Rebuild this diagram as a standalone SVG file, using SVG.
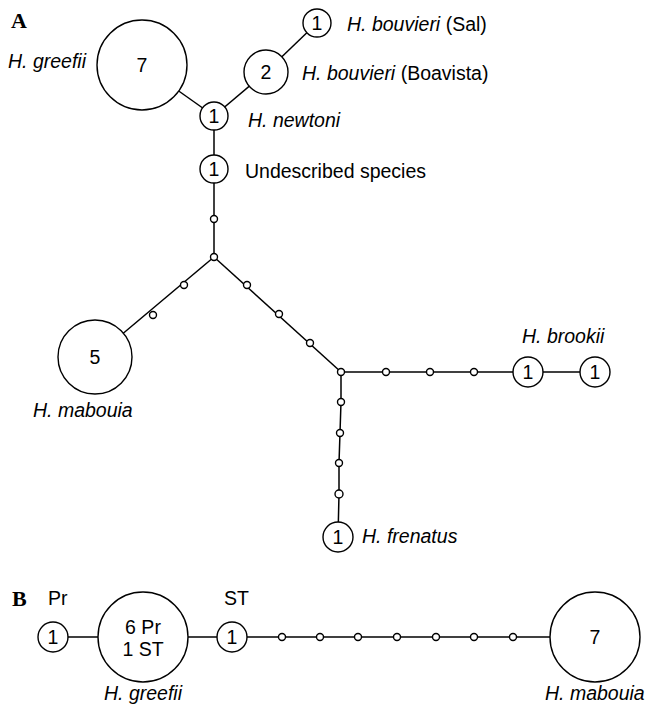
<svg xmlns="http://www.w3.org/2000/svg" width="648" height="710" viewBox="0 0 648 710">
<style>
.ln{stroke:#000;stroke-width:1.5;fill:none}
.nd{fill:#fff;stroke:#000;stroke-width:1.4}
.sm{fill:#fff;stroke:#000;stroke-width:1.4}
.t{font-family:"Liberation Sans",Arial,sans-serif;font-size:19.5px;fill:#000}
.i{font-style:italic}
.c{text-anchor:middle}
.p{font-family:"Liberation Serif","Times New Roman",serif;font-weight:bold;font-size:22px;fill:#000}
</style>
<rect width="648" height="710" fill="#fff"/>
<g id="connectors">
<line class="ln" x1="142" y1="65" x2="214" y2="116"/>
<line class="ln" x1="266" y1="72" x2="214" y2="116"/>
<line class="ln" x1="266" y1="72" x2="317" y2="23"/>
<line class="ln" x1="214" y1="116" x2="214" y2="257"/>
<line class="ln" x1="214" y1="257" x2="95" y2="357"/>
<line class="ln" x1="214" y1="257" x2="341" y2="372"/>
<line class="ln" x1="341" y1="372" x2="595" y2="372"/>
<polyline class="ln" points="341,372 341,402 340,433 339,463 339,494 338,537"/>
<line class="ln" x1="53" y1="637" x2="595" y2="637"/>
</g>
<text class="p" x="11" y="28">A</text>
<g id="n_greefii"><circle class="nd" cx="142" cy="65" r="45"/><text class="t c" x="142" y="72">7</text><text class="t i" x="8" y="68">H. greefii</text></g>
<g id="n_bouvieri_boa"><circle class="nd" cx="266" cy="72" r="22"/><text class="t c" x="266" y="79">2</text><text class="t" x="302" y="80"><tspan class="i">H. bouvieri</tspan> (Boavista)</text></g>
<g id="n_bouvieri_sal"><circle class="nd" cx="317" cy="23" r="14"/><text class="t c" x="317" y="30">1</text><text class="t" x="347" y="31"><tspan class="i">H. bouvieri</tspan> (Sal)</text></g>
<g id="n_newtoni"><circle class="nd" cx="214" cy="116" r="14"/><text class="t c" x="214" y="123">1</text><text class="t i" x="248" y="127">H. newtoni</text></g>
<g id="n_undescribed"><circle class="nd" cx="214" cy="169" r="14"/><text class="t c" x="214" y="176">1</text><text class="t" x="245" y="178">Undescribed species</text></g>
<g id="m_a">
<circle class="sm" cx="214" cy="219" r="3.5"/>
<circle class="sm" cx="214" cy="257" r="3.5"/>
<circle class="sm" cx="184" cy="285" r="3.5"/>
<circle class="sm" cx="153" cy="315" r="3.5"/>
<circle class="sm" cx="247" cy="285" r="3.5"/>
<circle class="sm" cx="279" cy="314" r="3.5"/>
<circle class="sm" cx="310" cy="343" r="3.5"/>
<circle class="sm" cx="341" cy="372" r="3.5"/>
<circle class="sm" cx="386" cy="372" r="3.5"/>
<circle class="sm" cx="430" cy="372" r="3.5"/>
<circle class="sm" cx="474" cy="372" r="3.5"/>
<circle class="sm" cx="341" cy="402" r="3.5"/>
<circle class="sm" cx="340" cy="433" r="3.5"/>
<circle class="sm" cx="339" cy="463" r="3.5"/>
<circle class="sm" cx="339" cy="494" r="4"/>
</g>
<g id="n_mabouia_a"><circle class="nd" cx="95" cy="357" r="37"/><text class="t c" x="95" y="364">5</text><text class="t i" x="33" y="417">H. mabouia</text></g>
<g id="n_brookii1"><circle class="nd" cx="528" cy="372" r="15"/><text class="t c" x="528" y="379">1</text><text class="t i" x="522" y="343">H. brookii</text></g>
<g id="n_brookii2"><circle class="nd" cx="595" cy="372" r="15"/><text class="t c" x="595" y="379">1</text></g>
<g id="n_frenatus"><circle class="nd" cx="338" cy="537" r="15"/><text class="t c" x="338" y="544">1</text><text class="t i" x="362" y="543">H. frenatus</text></g>
<text class="p" x="12" y="606">B</text>
<g id="b_pr"><circle class="nd" cx="53" cy="637" r="15"/><text class="t c" x="53" y="644">1</text><text class="t" x="48" y="605">Pr</text></g>
<g id="b_greefii"><circle class="nd" cx="143" cy="637" r="45"/><text class="t c" x="143" y="634">6 Pr</text><text class="t c" x="143" y="656">1 ST</text><text class="t i c" x="143" y="700">H. greefii</text></g>
<g id="b_st"><circle class="nd" cx="232" cy="637" r="15"/><text class="t c" x="232" y="644">1</text><text class="t" x="224" y="605">ST</text></g>
<g id="m_b">
<circle class="sm" cx="282" cy="637" r="3.5"/>
<circle class="sm" cx="320" cy="637" r="3.5"/>
<circle class="sm" cx="358" cy="637" r="3.5"/>
<circle class="sm" cx="397" cy="637" r="3.5"/>
<circle class="sm" cx="436" cy="637" r="3.5"/>
<circle class="sm" cx="474" cy="637" r="3.5"/>
<circle class="sm" cx="513" cy="637" r="3.5"/>
</g>
<g id="b_mabouia"><circle class="nd" cx="595" cy="637" r="45"/><text class="t c" x="595" y="644">7</text><text class="t i" x="545" y="700">H. mabouia</text></g>
</svg>
